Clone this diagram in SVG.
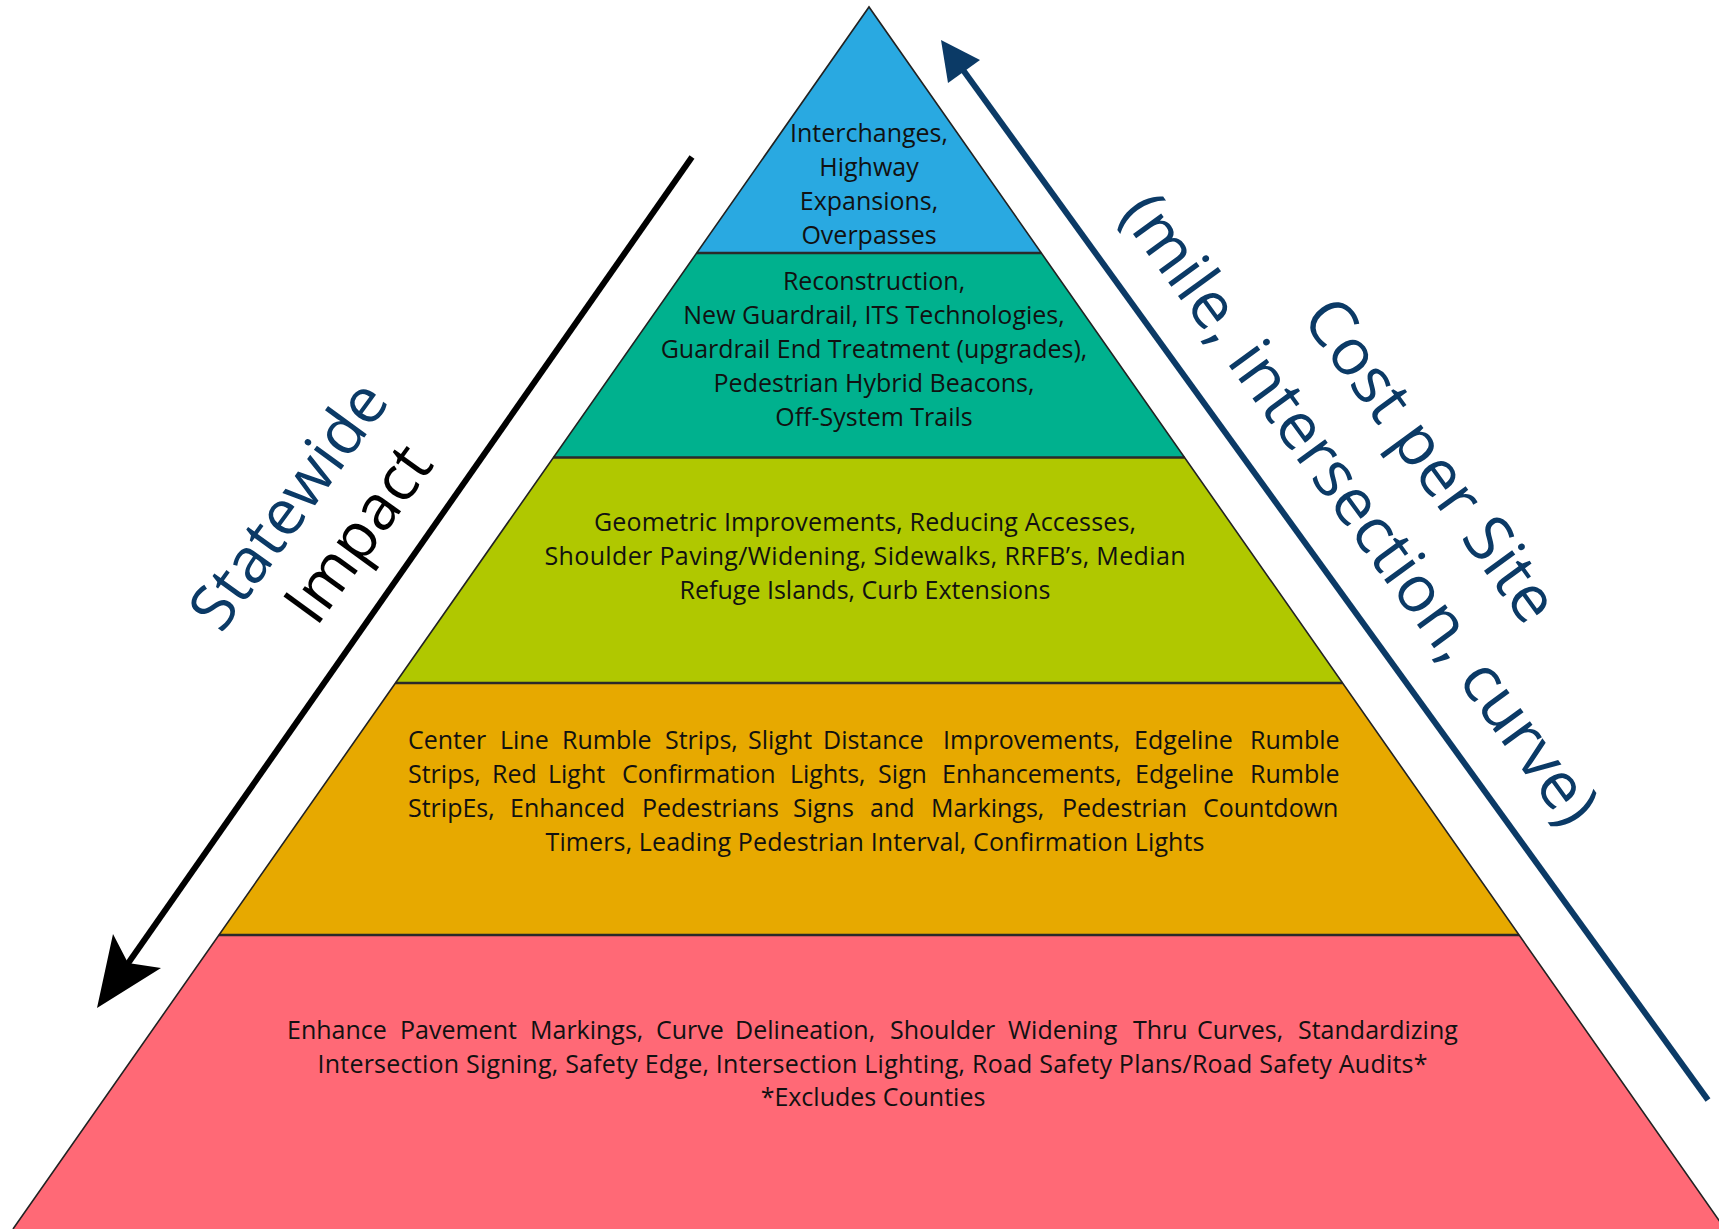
<svg xmlns="http://www.w3.org/2000/svg" width="1719" height="1229" viewBox="0 0 1719 1229">
<style>
.t{font-family:"Open Sans","Noto Sans","DejaVu Sans",sans-serif;font-size:25px;fill:#111;text-anchor:middle}
.j{font-family:"Open Sans","Noto Sans","DejaVu Sans",sans-serif;font-size:25px;fill:#111;text-anchor:start}
.lbl{font-family:"Open Sans","Noto Sans","DejaVu Sans",sans-serif;font-size:63px;text-anchor:middle}
.lbr{font-family:"Open Sans","Noto Sans","DejaVu Sans",sans-serif;font-size:65px;text-anchor:middle}
.navy{fill:#0b3a66}
.div{stroke:#2a2a2a;stroke-width:2.5}
</style>
<rect width="1719" height="1229" fill="#ffffff"/>

<g id="tier-1">
<polygon points="869,7 1041.3,253 696.7,253" fill="#29a9e1"/>
<text class="t" x="869" y="142">Interchanges,</text>
<text class="t" x="869" y="176">Highway</text>
<text class="t" x="869" y="210">Expansions,</text>
<text class="t" x="869" y="244">Overpasses</text>
</g>

<g id="tier-2">
<polygon points="696.7,253 1041.3,253 1184.6,457.5 553.4,457.5" fill="#00b18e"/>
<text class="t" x="874" y="290">Reconstruction,</text>
<text class="t" x="874" y="324">New Guardrail, ITS Technologies,</text>
<text class="t" x="874" y="358">Guardrail End Treatment (upgrades),</text>
<text class="t" x="874" y="392">Pedestrian Hybrid Beacons,</text>
<text class="t" x="874" y="426">Off-System Trails</text>
</g>

<g id="tier-3">
<polygon points="553.4,457.5 1184.6,457.5 1342.5,683 395.5,683" fill="#b0c800"/>
<text class="t" x="865" y="531" textLength="542" lengthAdjust="spacing">Geometric Improvements, Reducing Accesses,</text>
<text class="t" x="865" y="565" textLength="641" lengthAdjust="spacing">Shoulder Paving/Widening, Sidewalks, RRFB’s, Median</text>
<text class="t" x="865" y="599">Refuge Islands, Curb Extensions</text>
</g>

<g id="tier-4">
<polygon points="395.5,683 1342.5,683 1519.1,935 218.9,935" fill="#e7a900"/>
<text class="j" y="749"><tspan x="408">Center</tspan><tspan x="500">Line</tspan><tspan x="562">Rumble</tspan><tspan x="665">Strips,</tspan><tspan x="748">Slight</tspan><tspan x="823">Distance</tspan><tspan x="943">Improvements,</tspan><tspan x="1134">Edgeline</tspan><tspan x="1250">Rumble</tspan></text>
<text class="j" y="783"><tspan x="408">Strips,</tspan><tspan x="492">Red</tspan><tspan x="548">Light</tspan><tspan x="622">Confirmation</tspan><tspan x="790">Lights,</tspan><tspan x="878">Sign</tspan><tspan x="942">Enhancements,</tspan><tspan x="1135">Edgeline</tspan><tspan x="1250">Rumble</tspan></text>
<text class="j" y="817"><tspan x="408">StripEs,</tspan><tspan x="510">Enhanced</tspan><tspan x="642">Pedestrians</tspan><tspan x="793">Signs</tspan><tspan x="870">and</tspan><tspan x="931">Markings,</tspan><tspan x="1062">Pedestrian</tspan><tspan x="1203">Countdown</tspan></text>
<text class="t" x="875" y="851" textLength="659" lengthAdjust="spacing">Timers, Leading Pedestrian Interval, Confirmation Lights</text>
</g>

<g id="tier-5">
<polygon points="218.9,935 1519.1,935 1725,1229 13,1229" fill="#ff6976"/>
<text class="j" y="1039"><tspan x="287">Enhance</tspan><tspan x="400">Pavement</tspan><tspan x="530">Markings,</tspan><tspan x="656">Curve</tspan><tspan x="735">Delineation,</tspan><tspan x="890">Shoulder</tspan><tspan x="1008">Widening</tspan><tspan x="1133">Thru</tspan><tspan x="1197">Curves,</tspan><tspan x="1298">Standardizing</tspan></text>
<text class="t" x="872.5" y="1073" textLength="1110" lengthAdjust="spacing">Intersection Signing, Safety Edge, Intersection Lighting, Road Safety Plans/Road Safety Audits*</text>
<text class="t" x="873" y="1106">*Excludes Counties</text>
</g>

<g id="pyramid-lines" fill="none">
<line class="div" x1="696.7" y1="253" x2="1041.3" y2="253"/>
<line class="div" x1="553.4" y1="457.5" x2="1184.6" y2="457.5"/>
<line class="div" x1="395.5" y1="683" x2="1342.5" y2="683"/>
<line class="div" x1="218.9" y1="935" x2="1519.1" y2="935"/>
<polyline points="13,1229 869,7 1725,1229" stroke="#222" stroke-width="1.6"/>
</g>

<g id="connectors">
<g id="arrow-impact">
<line x1="692" y1="157" x2="122" y2="972" stroke="#000" stroke-width="6"/>
<polygon points="97,1008 113,934 128,963 161,968" fill="#000"/>
</g>
<g id="arrow-cost">
<line x1="1708" y1="1100" x2="958" y2="63" stroke="#0b3a66" stroke-width="6"/>
<polygon points="941,40 980,60 948,83" fill="#0b3a66"/>
</g>
</g>

<g id="label-impact" transform="translate(306,518) rotate(-54)">
<text class="lbl navy" x="0" y="0">Statewide</text>
<text class="lbl" x="18" y="73" fill="#000">Impact</text>
</g>

<g id="label-cost" transform="translate(1413,473) rotate(54)">
<text class="lbr navy" x="0" y="0">Cost per Site</text>
<text class="lbr navy" x="-2" y="86">(mile, intersection, curve)</text>
</g>
</svg>
